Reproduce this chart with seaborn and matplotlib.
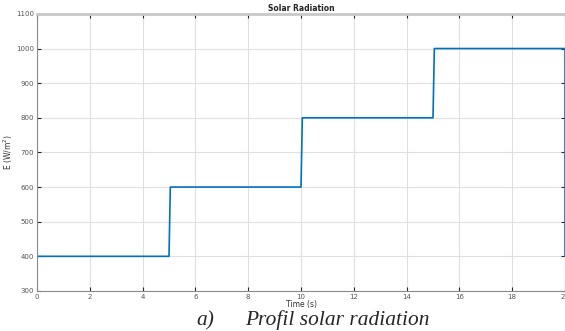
import matplotlib
matplotlib.use("Agg")
import matplotlib.pyplot as plt
import seaborn as sns
import pandas as pd

time_s = [0, 5.0, 5.05, 10.0, 10.05, 15.0, 15.05, 20.0, 20.0]
irradiance = [400, 400, 600, 600, 800, 800, 1000, 1000, 400]
x_ticks = [0, 2, 4, 6, 8, 10, 12, 14, 16, 18, 20]
y_ticks = [300, 400, 500, 600, 700, 800, 900, 1000, 1100]

sns.set_theme(style="whitegrid")
plt.rcParams['font.family'] = ['DejaVu Sans']

df = pd.DataFrame({"t": time_s, "E": irradiance})

fig = plt.figure(figsize=(5.65, 3.31), dpi=100)
ax = fig.add_axes([0.0655, 0.121, 0.9345, 0.837])
sns.lineplot(data=df, x="t", y="E", estimator=None, sort=False,
             color="#0072BD", linewidth=1.2, ax=ax)

ax.set_xlim(0, 20)
ax.set_ylim(300, 1100)
ax.set_xticks(x_ticks)
ax.set_yticks(y_ticks)
ax.tick_params(axis="both", labelsize=5, colors="#262626", direction="in",
               length=3, width=0.8, pad=2, top=True, right=True,
               bottom=True, left=True)
ax.tick_params(axis="both", labelcolor="#555555")
ax.grid(True, color="#e0e0e0", linewidth=0.8)
for s in ["left", "bottom", "top", "right"]:
    ax.spines[s].set_visible(True)
    ax.spines[s].set_color("#8a8a8a")
    ax.spines[s].set_linewidth(0.8)
ax.spines["top"].set_color("#c8c8c8")
ax.spines["top"].set_linewidth(2.0)

ax.set_title("Solar Radiation", fontsize=5.5, fontweight="bold", pad=2, color="#222222")
ax.set_xlabel("Time (s)", fontsize=5.5, labelpad=0, color="#333333")
ax.set_ylabel("E (W/m$^2$)", fontsize=5.5, labelpad=1, color="#333333")

fig.text(0.347, 0.018, "a)", fontsize=15.4, style="italic", family="Liberation Serif")
fig.text(0.434, 0.018, "Profil solar radiation", fontsize=15.4, style="italic",
         family="Liberation Serif")

fig.savefig("out.png", dpi=100)
